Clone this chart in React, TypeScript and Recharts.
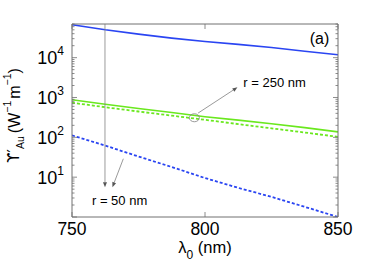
import React from 'react';
import { LineChart, Line, XAxis, YAxis, ReferenceLine, ReferenceDot, Label } from 'recharts';

// wavelength (nm)
const wavelengths = [750, 762.5, 775, 787.5, 800, 812.5, 825, 837.5, 850];
// upsilon'_Au values (W^-1 m^-1)
const blueSolid = [67000, 50000, 39000, 31000, 25500, 21500, 18000, 14500, 11800];
const blueDashed = [112, 62, 33, 18, 9.5, 5.4, 3.2, 1.8, 1.0];
const greenSolid = [880, 680, 530, 420, 330, 270, 220, 175, 137];
const greenDashed = [740, 570, 445, 350, 275, 215, 168, 132, 103];

const xTicks = [750, 800, 850];
const yMajor = [1, 10, 100, 1000, 10000];
const yLabelled = [10, 100, 1000, 10000];
const yTicks: number[] = [];
yMajor.forEach(d => {
  for (let m = 1; m <= 9; m++) {
    if (d * m <= 70000) yTicks.push(d * m);
  }
});

const data = wavelengths.map((w, i) => ({
  w,
  bs: blueSolid[i],
  bd: blueDashed[i],
  gs: greenSolid[i],
  gd: greenDashed[i],
}));

const FONT = '"Liberation Sans", Arial, Helvetica, sans-serif';
const AXIS = '#707070';
const BLUE = '#2a45f2';
const GREEN = '#6ae81e';
const ANN = '#808080';

const isMajor = (v: number) => yMajor.includes(v);

const LeftTick = (p: any) => {
  const { x, y, payload } = p;
  const v = payload.value;
  const major = isMajor(v);
  return (
    <g>
      <line x1={x} x2={x + (major ? 5 : 2.5)} y1={y} y2={y} stroke={AXIS} strokeWidth={0.8} />
      {yLabelled.includes(v) && (
        <text x={x - 8} y={y + 6.5} textAnchor="end" fontFamily={FONT} fontSize={18} fill="#000">
          <tspan>10</tspan>
          <tspan dy={-9} fontSize={12}>{Math.round(Math.log10(v))}</tspan>
        </text>
      )}
    </g>
  );
};

const RightTick = (p: any) => {
  const { x, y, payload } = p;
  const major = isMajor(payload.value);
  return <line x1={x} x2={x - (major ? 5 : 2.5)} y1={y} y2={y} stroke={AXIS} strokeWidth={0.8} />;
};

const BottomTick = (p: any) => {
  const { x, y, payload } = p;
  return (
    <g>
      <line x1={x} x2={x} y1={y} y2={y - 5} stroke={AXIS} strokeWidth={0.8} />
      <text x={x} y={y + 18} textAnchor="middle" fontFamily={FONT} fontSize={17.5} fill="#000">
        {payload.value}
      </text>
    </g>
  );
};

const TopTick = (p: any) => {
  const { x, y } = p;
  return <line x1={x} x2={x} y1={y} y2={y + 5} stroke={AXIS} strokeWidth={0.8} />;
};

const Arrow = (p: any) => {
  const { x1, y1, x2, y2 } = p;
  const a = Math.atan2(y2 - y1, x2 - x1);
  const L = 5;
  const W = 2;
  const bx = x2 - L * Math.cos(a);
  const by = y2 - L * Math.sin(a);
  const pts = [
    `${x2},${y2}`,
    `${bx + W * Math.sin(a)},${by - W * Math.cos(a)}`,
    `${bx - W * Math.sin(a)},${by + W * Math.cos(a)}`,
  ].join(' ');
  return (
    <g>
      <line x1={x1} y1={y1} x2={bx} y2={by} stroke={ANN} strokeWidth={0.8} />
      <polygon points={pts} fill="#555" />
    </g>
  );
};

const makeText = (txt: string, anchor: 'start' | 'end', size: number) => (p: any) => (
  <text x={p.cx} y={p.cy + size * 0.35} textAnchor={anchor} fontFamily={FONT} fontSize={size} fill="#000">
    {txt}
  </text>
);

const Ring = (p: any) => (
  <ellipse cx={p.cx} cy={p.cy} rx={5} ry={4} fill="none" stroke={ANN} strokeWidth={0.8} />
);

const YLabel = (p: any) => {
  const { viewBox } = p;
  const cx = viewBox.x + 14;
  const cy = viewBox.y + viewBox.height / 2 - 5;
  return (
    <text
      x={cx}
      y={cy}
      transform={`rotate(-90, ${cx}, ${cy})`}
      textAnchor="middle"
      dominantBaseline="central"
      fontFamily={FONT}
      fontSize={16}
      fill="#000"
    >
      <tspan fontFamily='"DejaVu Sans", sans-serif' fontSize={15}>ϒ′</tspan>
      <tspan dy={6} fontSize={10.5}>Au</tspan>
      <tspan dy={-6} dx={3}>(W</tspan>
      <tspan dy={-7} fontSize={10.5}>−1</tspan>
      <tspan dy={7} dx={2}>m</tspan>
      <tspan dy={-7} fontSize={10.5}>−1</tspan>
      <tspan dy={7}>)</tspan>
    </text>
  );
};

const XLabel = (p: any) => {
  const { viewBox } = p;
  const cx = viewBox.x + viewBox.width / 2;
  return (
    <text x={cx} y={viewBox.y + 36} textAnchor="middle" fontFamily={FONT} fontSize={16.5} fill="#000">
      <tspan>λ</tspan>
      <tspan dy={6} fontSize={12}>0</tspan>
      <tspan dy={-6}> (nm)</tspan>
    </text>
  );
};

export default function App() {
  return (
    <div style={{ width: 374, height: 263, background: '#fff' }}>
      <style>{'body{margin:0}'}</style>
      <LineChart width={374} height={263} data={data} margin={{ top: 23, right: 35, bottom: 0, left: 0 }}>
        <XAxis
          dataKey="w"
          type="number"
          domain={[750, 850]}
          ticks={xTicks}
          interval={0}
          allowDataOverflow
          height={46}
          tickSize={0}
          tickMargin={0}
          axisLine={{ stroke: AXIS }}
          tickLine={false}
          tick={<BottomTick />}
        >
          <Label content={<XLabel />} />
        </XAxis>
        <XAxis
          xAxisId="top"
          orientation="top"
          dataKey="w"
          type="number"
          domain={[750, 850]}
          ticks={xTicks}
          interval={0}
          allowDataOverflow
          height={1}
          tickSize={0}
          tickMargin={0}
          axisLine={{ stroke: AXIS }}
          tickLine={false}
          tick={<TopTick />}
        />
        <YAxis
          scale="log"
          type="number"
          domain={[1, 70000]}
          ticks={yTicks}
          interval={0}
          allowDataOverflow
          width={72}
          tickSize={0}
          tickMargin={0}
          axisLine={{ stroke: AXIS }}
          tickLine={false}
          tick={<LeftTick />}
        >
          <Label content={<YLabel />} />
        </YAxis>
        <YAxis
          yAxisId="right"
          orientation="right"
          scale="log"
          type="number"
          domain={[1, 70000]}
          ticks={yTicks}
          interval={0}
          allowDataOverflow
          width={1}
          tickSize={0}
          tickMargin={0}
          axisLine={{ stroke: AXIS }}
          tickLine={false}
          tick={<RightTick />}
        />
        <Line dataKey="bs" stroke={BLUE} strokeWidth={1.6} dot={false} isAnimationActive={false} />
        <Line dataKey="bd" stroke={BLUE} strokeWidth={1.8} strokeDasharray="3 2" dot={false} isAnimationActive={false} />
        <Line dataKey="gs" stroke={GREEN} strokeWidth={1.6} dot={false} isAnimationActive={false} />
        <Line dataKey="gd" stroke={GREEN} strokeWidth={1.8} strokeDasharray="3 2" dot={false} isAnimationActive={false} />
        <ReferenceLine segment={[{ x: 762.4, y: 70000 }, { x: 762.4, y: 5.6 }]} shape={<Arrow />} />
        <ReferenceLine segment={[{ x: 769.3, y: 29 }, { x: 765.2, y: 5.6 }]} shape={<Arrow />} />
        <ReferenceLine segment={[{ x: 797.4, y: 406 }, { x: 812.2, y: 1800 }]} shape={<Arrow />} />
        <ReferenceDot x={796} y={310} r={5} shape={<Ring />} />
        <ReferenceDot x={814.4} y={2455} r={0} shape={makeText('r = 250 nm', 'start', 13)} />
        <ReferenceDot x={757.5} y={2.6} r={0} shape={makeText('r = 50 nm', 'start', 13)} />
        <ReferenceDot x={846.7} y={29800} r={0} shape={makeText('(a)', 'end', 16)} />
      </LineChart>
    </div>
  );
}
